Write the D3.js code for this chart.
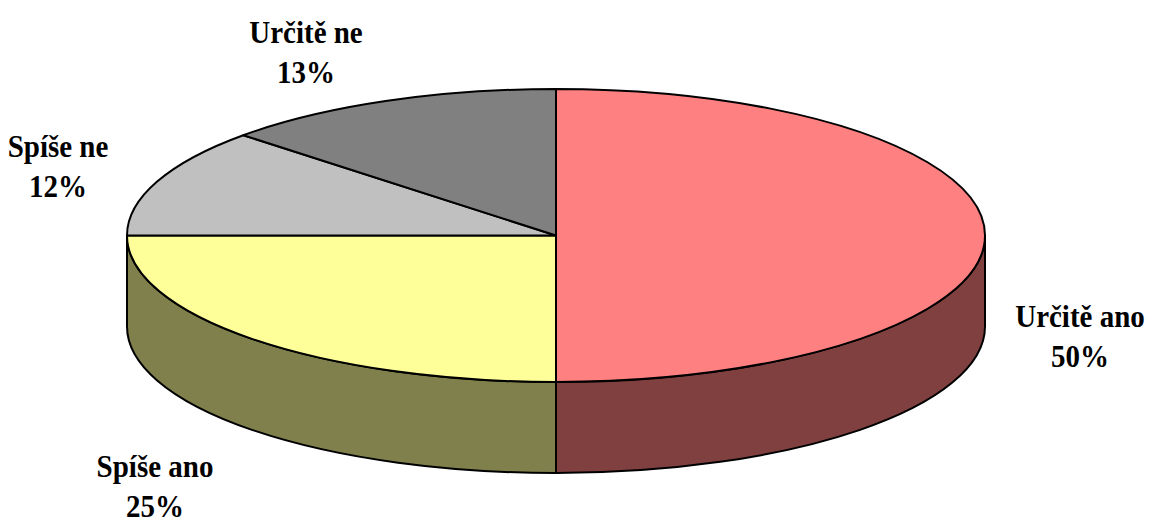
<!DOCTYPE html>
<html><head><meta charset="utf-8">
<script src="https://cdn.jsdelivr.net/npm/d3@7"></script>
<style>body{margin:0;background:#fff}</style>
</head><body>
<svg id="c" width="1154" height="518"></svg>
<script>
const categories = ["Určitě ano", "Spíše ano", "Spíše ne", "Určitě ne"];
const values = [50, 25, 12, 13];
const topColors = ["#FF8080", "#FFFF99", "#C0C0C0", "#808080"];
const sideColors = ["#804040", "#80804C", "#606060", "#404040"];

// layout
const cx = 556, cy = 235.5, rx = 429, ry = 146.5, depth = 91;
const labelPos = [[1080, 327], [155, 477], [58, 157], [306, 43]];
const lineGap = 40;
const vScale = 1.1;

const svg = d3.select("#c");
const pie = d3.pie().sort(null).value(d => d)(values);
const pt = (a, dy = 0) => [cx + rx * Math.sin(a), cy - ry * Math.cos(a) + dy];

function arcTo(a0, a1, dy) {
  let s = "";
  const n = Math.max(1, Math.ceil((a1 - a0) / (Math.PI / 2)));
  for (let i = 1; i <= n; i++) {
    const a = a0 + (a1 - a0) * i / n;
    const p = pt(a, dy);
    s += `A${rx},${ry} 0 0 1 ${p[0]},${p[1]}`;
  }
  return s;
}
function arcBack(a1, a0, dy) {
  let s = "";
  const n = Math.max(1, Math.ceil((a1 - a0) / (Math.PI / 2)));
  for (let i = 1; i <= n; i++) {
    const a = a1 - (a1 - a0) * i / n;
    const p = pt(a, dy);
    s += `A${rx},${ry} 0 0 0 ${p[0]},${p[1]}`;
  }
  return s;
}

// side walls (front visible range pi/2..3pi/2)
pie.forEach((d, i) => {
  const a0 = Math.max(d.startAngle, Math.PI / 2);
  const a1 = Math.min(d.endAngle, 3 * Math.PI / 2);
  if (a1 <= a0) return;
  const p0 = pt(a0), p1b = pt(a1, depth);
  const path = `M${p0[0]},${p0[1]}` + arcTo(a0, a1, 0) + `L${p1b[0]},${p1b[1]}` + arcBack(a1, a0, depth) + "Z";
  svg.append("path").attr("d", path).attr("fill", sideColors[i])
    .attr("stroke", "#000").attr("stroke-width", 2).attr("stroke-linejoin", "round");
});

// top faces
pie.forEach((d, i) => {
  const p0 = pt(d.startAngle);
  const path = `M${cx},${cy}L${p0[0]},${p0[1]}` + arcTo(d.startAngle, d.endAngle, 0) + "Z";
  svg.append("path").attr("d", path).attr("fill", topColors[i])
    .attr("stroke", "#000").attr("stroke-width", 2).attr("stroke-linejoin", "round");
});

// labels
pie.forEach((d, i) => {
  const g = svg.append("g").attr("transform", `translate(${labelPos[i][0]},${labelPos[i][1]}) scale(1,${vScale})`);
  const t = g.append("text").attr("text-anchor", "middle")
    .attr("font-family", "'Liberation Serif','Times New Roman',serif")
    .attr("font-weight", "bold").attr("font-size", 29).attr("fill", "#000");
  t.append("tspan").attr("x", 0).attr("y", 0).text(categories[i]);
  t.append("tspan").attr("x", 0).attr("y", lineGap / vScale).text(Math.round(values[i]) + "%");
});
</script>
</body></html>
